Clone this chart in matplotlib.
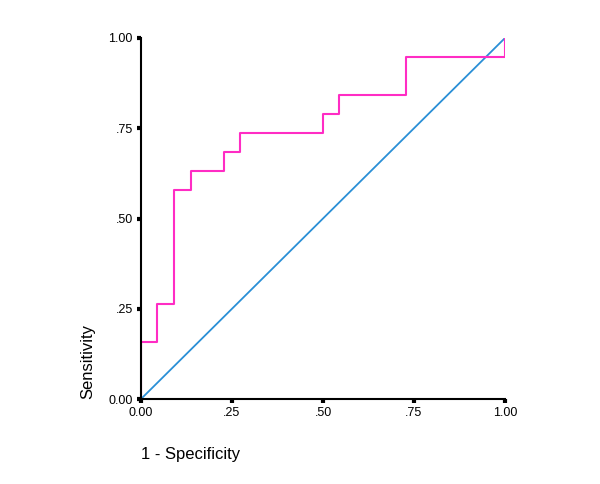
import matplotlib
matplotlib.use("Agg")
import matplotlib.pyplot as plt

# ROC curve corner points (1 - specificity, sensitivity)
roc_fpr = [0.0, 0.0, 0.045, 0.045, 0.091, 0.091, 0.136, 0.136, 0.227, 0.227,
           0.273, 0.273, 0.500, 0.500, 0.545, 0.545, 0.727, 0.727, 1.0, 1.0]
roc_tpr = [0.0, 0.158, 0.158, 0.263, 0.263, 0.579, 0.579, 0.632, 0.632, 0.684,
           0.684, 0.737, 0.737, 0.789, 0.789, 0.842, 0.842, 0.947, 0.947, 1.0]
ref_x = [0.0, 1.0]
ref_y = [0.0, 1.0]
tick_vals = [0.0, 0.25, 0.5, 0.75, 1.0]
x_tick_labels = ["0.00", ".25", ".50", ".75", "1.00"]
y_tick_labels = ["0.00", ".25", ".50", ".75", "1.00"]

plt.rcParams['font.family'] = ['Liberation Sans', 'DejaVu Sans']

fig = plt.figure(figsize=(6, 4.84), dpi=100)
ax = fig.add_axes([141/600, 1 - 399/484, (505-141)/600, (399-38)/484])

ax.plot(ref_x, ref_y, color='#2a8fd6', lw=1.3, solid_capstyle='butt')
ax.plot(roc_fpr, roc_tpr, color='#ff2cc4', lw=1.5)

ax.set_xlim(0, 1)
ax.set_ylim(0, 1)
for s in ['top', 'right']:
    ax.spines[s].set_visible(False)
for s in ['left', 'bottom']:
    ax.spines[s].set_linewidth(1.5)
    ax.spines[s].set_color('black')

ax.set_xticks(tick_vals)
ax.set_xticklabels(x_tick_labels)
ax.set_yticks(tick_vals)
ax.set_yticklabels(y_tick_labels)
ax.tick_params(axis='both', direction='out', length=3, width=3, labelsize=9,
               colors='black', pad=3)

ax.text(0.0, -0.155, "1 - Specificity", transform=ax.transAxes, fontsize=12,
        ha='left', va='center')
ax.text(-0.147, 0.0, "Sensitivity", transform=ax.transAxes, fontsize=12,
        ha='center', va='bottom', rotation=90)

fig.savefig("out.png", dpi=100)
